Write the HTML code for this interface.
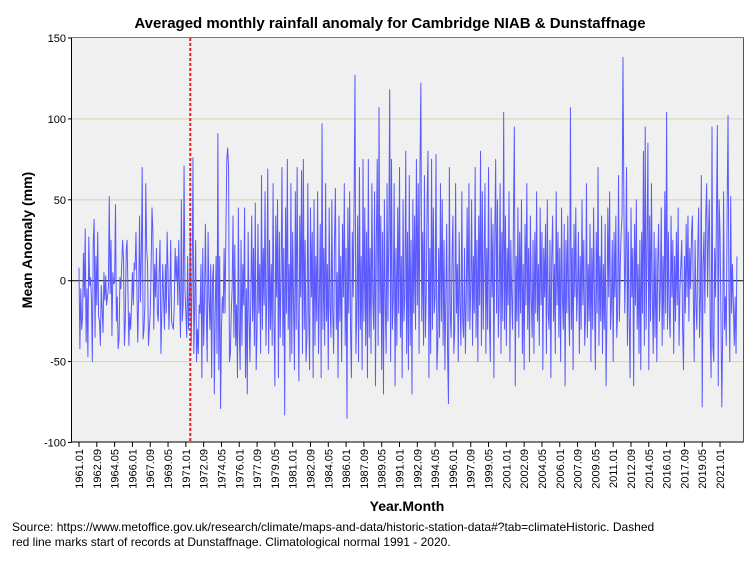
<!DOCTYPE html>
<html><head><meta charset="utf-8"><style>
body{margin:0;background:#fff;width:753px;height:563px;overflow:hidden;font-family:"Liberation Sans",Arial,sans-serif}
</style></head><body>
<svg id="chart" width="753" height="563" xmlns="http://www.w3.org/2000/svg" font-family="Liberation Sans, Arial, sans-serif">
<text x="390" y="28" text-anchor="middle" font-size="15" font-weight="bold">Averaged monthly rainfall anomaly for Cambridge NIAB &amp; Dunstaffnage</text>
<rect x="71.5" y="37.5" width="672" height="404.5" fill="#f0f0f0"/>
<g id="grid"></g>
<g id="yaxis"></g>
<g id="xaxis"></g>
<path id="series" fill="none" stroke="#5a5aff" stroke-width="1" stroke-linejoin="round"/>
<line x1="71.5" y1="37.5" x2="743.5" y2="37.5" stroke="#777" stroke-width="1"/>
<line x1="743.5" y1="37.5" x2="743.5" y2="442" stroke="#555" stroke-width="1"/>
<line x1="71.5" y1="37.5" x2="71.5" y2="442" stroke="#000" stroke-width="1"/>
<line x1="71.5" y1="442" x2="743.5" y2="442" stroke="#000" stroke-width="1"/>
<line id="redline" y1="38" y2="442" stroke="#e02020" stroke-width="2" stroke-dasharray="3,2"/>
<text transform="translate(32,240) rotate(-90)" text-anchor="middle" font-size="14" font-weight="bold">Mean Anomaly (mm)</text>
<text x="407" y="511" text-anchor="middle" font-size="14" font-weight="bold">Year.Month</text>
<text font-size="12" x="12" y="531">Source: https://www.metoffice.gov.uk/research/climate/maps-and-data/historic-station-data#?tab=climateHistoric. Dashed</text>
<text font-size="12" x="12" y="546">red line marks start of records at Dunstaffnage. Climatological normal 1991 - 2020.</text>
</svg>
<script>
const yTicks=[150,100,50,0,-50,-100];
const gridValues=[100,50,-50];
const startYear=1961;
const markerIndex=125;
const values=[
8,-42,-5,-30,-22,17,-10,32,-38,-5,-47,27,
-3,2,-12,-50,24,38,-35,15,-15,30,-22,-25,
-40,-3,-18,-32,5,-12,3,-15,-10,-4,52,-8,
25,-34,5,-2,-1,47,-25,-10,-42,-36,2,-5,
10,25,13,-40,-25,18,25,-7,-40,-20,-30,-15,
5,-15,11,7,30,-3,-38,-10,40,-13,15,70,
-36,-30,-15,60,20,10,-40,-30,-20,8,45,30,
-30,10,-10,20,-20,-25,5,25,-45,-20,10,-10,
-30,10,-20,30,5,-30,-10,25,-25,-28,-30,-15,
20,0,15,-15,25,-8,-35,50,-25,-15,71,-5,
-20,-35,15,-30,-10,30,-40,0,76,-45,-15,25,
-50,-30,-45,-15,-20,10,-60,20,-40,-10,35,-20,
-50,30,-10,-30,10,-60,0,10,-70,-20,15,-45,
91,-55,15,-79,-30,-10,-20,20,-20,30,75,82,
70,-50,-45,-20,-5,40,-35,22,-40,-15,-60,45,
-30,-55,25,-40,10,-15,45,-60,-5,-70,30,-20,
-50,-10,40,-25,20,-40,48,-55,-30,35,-20,10,
-45,65,-30,20,-15,55,-40,-10,69,-45,25,-30,
10,-40,60,-25,-65,40,-10,50,-60,30,-35,5,
70,-40,20,-83,45,-20,75,-30,10,-50,60,-45,
30,-15,-55,55,-30,70,-20,-62,40,-10,68,-45,
75,-30,25,-50,-35,60,-20,-55,45,-10,30,-60,
50,-40,15,-25,55,-45,-10,35,-60,97,-30,20,
-40,60,-25,10,-55,45,-15,-35,50,-20,-45,25,
57,-30,5,-60,40,-25,15,-50,35,-10,60,-40,
20,-85,45,-20,55,-30,-60,30,-10,50,127,-45,
-20,40,-50,70,-30,15,-55,75,-25,45,-40,30,
-60,75,-35,20,-45,60,-10,-30,55,-65,25,75,
-40,107,-20,40,-55,30,-70,50,-15,-45,60,-25,
30,118,-50,75,-30,-10,60,-65,20,-40,45,-20,
70,-35,15,-60,50,-25,-10,80,-45,30,-55,65,
-40,25,-70,50,-20,40,-30,75,-15,60,-45,70,
122,-25,30,-40,65,-35,-10,50,80,-60,20,-45,
75,-30,45,-20,-10,78,-55,-40,20,-35,60,-25,
50,-40,25,-55,-10,35,-45,-76,70,-20,-35,15,
40,-45,-30,60,-20,10,-50,30,-15,-40,55,-25,
-35,20,-45,-10,45,-25,60,-30,-5,50,-40,15,
-20,70,-35,25,-50,40,-15,80,-40,55,-30,10,
60,-45,20,-30,70,-25,-50,45,-10,35,-60,25,
75,-20,50,-35,-10,60,-45,30,-25,104,-30,40,
-40,20,-15,55,-50,25,-10,-30,40,95,-65,15,
-25,45,-35,30,-20,50,-45,10,-55,35,-15,60,
-30,20,-50,40,-10,-35,25,-45,30,-20,55,-25,
10,-40,45,-15,30,-55,20,-10,35,-45,50,-20,
-30,25,-60,15,40,-25,10,-45,55,-15,30,-35,
20,-50,45,-10,-30,35,-65,25,-20,40,-15,-40,
107,-30,20,-55,35,-10,45,-25,-5,30,-45,15,
-30,50,-15,25,-40,-20,60,-35,10,-25,35,-50,
20,-30,45,-10,-55,30,-20,70,-40,15,-25,40,
-45,10,-30,35,-65,-20,45,-10,55,-30,-15,25,
-50,30,-10,40,-35,-20,65,-25,10,30,40,138,
50,-20,15,70,-40,30,-25,-60,45,-10,20,-65,
35,-15,50,-30,10,-45,25,-55,30,-20,80,-40,
95,-30,20,85,-55,40,-25,60,-10,-45,30,-35,
20,-50,10,35,-25,-5,45,-40,15,-30,55,-20,
104,-30,30,-20,-35,40,-10,25,-45,15,-25,30,
-15,45,-40,-5,10,25,-30,-55,15,-20,35,-10,
40,-25,20,-5,30,40,-10,-50,25,-15,-30,20,
45,-35,-10,65,-78,10,30,-20,40,60,-10,30,
50,-30,-60,95,-40,-50,20,-10,40,96,-65,50,
30,-20,-78,-30,55,-30,-10,-40,45,102,-5,-50,
52,-20,10,-15,-40,-10,-45,15
];
const NS='http://www.w3.org/2000/svg';
function yScale(v){return 280.7-(v*1.618);}
function xScale(i){return 79+i*0.8903;}
const grid=document.getElementById('grid');
gridValues.forEach(v=>{
  const l=document.createElementNS(NS,'line');
  
  
  l.setAttribute('x1',71.5);l.setAttribute('x2',743.5);
  l.setAttribute('y1',yScale(v));l.setAttribute('y2',yScale(v));
  l.setAttribute('stroke','#dcd8bc');l.setAttribute('stroke-width','1.3');
  grid.appendChild(l);
});
const zl=document.createElementNS(NS,'line');


zl.setAttribute('x1',71.5);zl.setAttribute('x2',743.5);
zl.setAttribute('y1',yScale(0));zl.setAttribute('y2',yScale(0));
zl.setAttribute('stroke','#222');zl.setAttribute('stroke-width','1.2');
grid.appendChild(zl);
const ya=document.getElementById('yaxis');
yTicks.forEach(v=>{
  const t=document.createElementNS(NS,'text');
  
  
  t.setAttribute('x',66);t.setAttribute('y',yScale(v)+4);
  t.setAttribute('text-anchor','end');t.setAttribute('font-size','11');
  t.textContent=v;ya.appendChild(t);
  const k=document.createElementNS(NS,'line');
  
  
  k.setAttribute('x1',68);k.setAttribute('x2',71.5);
  k.setAttribute('y1',yScale(v));k.setAttribute('y2',yScale(v));
  k.setAttribute('stroke','#000');ya.appendChild(k);
});
const xa=document.getElementById('xaxis');
for(let i=0;i<=720;i+=20){
  const yr=startYear+Math.floor(i/12), mo=(i%12)+1;
  const label=yr+'.'+(mo<10?'0'+mo:mo);
  const x=xScale(i);
  const k=document.createElementNS(NS,'line');
  
  
  k.setAttribute('x1',x);k.setAttribute('x2',x);k.setAttribute('y1',442);k.setAttribute('y2',447);
  k.setAttribute('stroke','#000');xa.appendChild(k);
  const t=document.createElementNS(NS,'text');
  
  
  t.setAttribute('transform','translate('+(x+4)+',449) rotate(-90)');
  t.setAttribute('text-anchor','end');t.setAttribute('font-size','11');
  t.textContent=label;xa.appendChild(t);
}
let d='';
values.forEach((v,i)=>{d+=(i?'L':'M')+xScale(i).toFixed(2)+','+yScale(v).toFixed(2);});
document.getElementById('series').setAttribute('d',d);
const rl=document.getElementById('redline');
rl.setAttribute('x1',xScale(markerIndex));rl.setAttribute('x2',xScale(markerIndex));
</script>
</body></html>
